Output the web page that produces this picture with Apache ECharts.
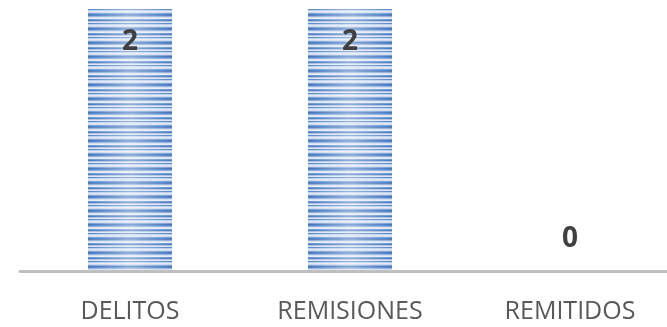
<!DOCTYPE html>
<html>
<head>
<meta charset="utf-8">
<script src="https://cdn.jsdelivr.net/npm/echarts@6/dist/echarts.min.js"></script>
<style>html,body{margin:0;padding:0;background:#fff;overflow:hidden}#c{width:680px;height:327px}</style>
</head>
<body>
<div id="c"></div>
<script>
const categories = ['DELITOS', 'REMISIONES', 'REMITIDOS'];
const values = [2, 2, 0];

// stripe texture tile
const tile = document.createElement('canvas');
tile.width = 4; tile.height = 14;
const tc = tile.getContext('2d');
const rows = ['#4677bd', '#4f80c3', '#8eaedd', '#d3e0f2', '#e4ecf7', '#6e96cf', '#4a7bbf',
              '#a7c0e5', '#dbe5f4', '#5888c8', '#b8cdeb', '#e0e9f6', '#c9d8ef', '#7b9fd4'];
rows.forEach((c, i) => { tc.fillStyle = c; tc.fillRect(0, i, 4, 1); });

const chart = echarts.init(document.getElementById('c'));
chart.setOption({
  backgroundColor: '#ffffff',
  animation: false,
  grid: { left: 20, top: 9, right: 0, bottom: 55.5 },
  xAxis: {
    type: 'category',
    data: categories,
    z: 5,
    axisLine: { lineStyle: { color: '#bfbfbf', width: 3 } },
    axisTick: { show: false },
    axisLabel: { color: '#595959', fontSize: 25, fontFamily: 'Open Sans', margin: 28 }
  },
  yAxis: { type: 'value', min: 0, max: 2, show: false, splitLine: { show: false } },
  series: [
    {
      type: 'bar',
      data: values,
      barWidth: 84,
      itemStyle: { color: { image: tile, repeat: 'repeat' } },
      z: 2
    },
    {
      type: 'bar',
      data: values.map(v => ({
        value: v,
        label: v === 0 ? { position: 'top', distance: 18 } : { position: 'insideTop', distance: 19 }
      })),
      barWidth: 84,
      barGap: '-100%',
      silent: true,
      label: { show: true, color: '#404040', fontSize: 28, fontWeight: 'bold', fontFamily: 'Open Sans' },
      itemStyle: {
        color: {
          type: 'linear', x: 0, y: 0, x2: 1, y2: 0,
          colorStops: [
            { offset: 0, color: 'rgba(255,255,255,0)' },
            { offset: 0.5, color: 'rgba(255,255,255,0.4)' },
            { offset: 1, color: 'rgba(255,255,255,0)' }
          ]
        }
      },
      z: 3
    }
  ]
});
</script>
</body>
</html>
